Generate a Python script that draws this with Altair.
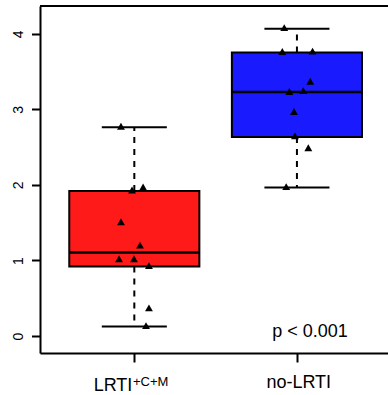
import altair as alt
import pandas as pd

# ---- data ----
positions = [1, 2]
groups = ["LRTI", "no-LRTI"]
box_colors = ["#ff1a1a", "#1a1aff"]
whisker_lo = [0.125, 1.966]
q1 = [0.919, 2.636]
median = [1.105, 3.232]
q3 = [1.92, 3.754]
whisker_hi = [2.764, 4.07]

lrti_values = [2.764, 1.92, 1.96, 1.50, 1.19, 1.01, 1.01, 0.919, 0.36, 0.125]
lrti_jitter = [-0.082, -0.014, 0.054, -0.082, 0.035, -0.094, -0.002, 0.09, 0.09, 0.072]
nolrti_values = [4.07, 3.754, 3.76, 3.36, 3.225, 3.235, 2.96, 2.636, 2.48, 1.966]
nolrti_jitter = [-0.078, -0.09, 0.096, 0.082, -0.047, 0.039, -0.018, -0.012, 0.07, -0.066]

y_ticks = [0, 1, 2, 3, 4]
p_label = "p < 0.001"
p_pos = [2.08, 0.0]
superscript = "+C+M"

# ---- tables ----
box_df = pd.DataFrame({
    "pos": positions, "group": groups, "color": box_colors,
    "lo": whisker_lo, "q1": q1, "med": median, "q3": q3, "hi": whisker_hi,
})
pts_df = pd.DataFrame({
    "pos": [positions[0] + j for j in lrti_jitter] + [positions[1] + j for j in nolrti_jitter],
    "value": lrti_values + nolrti_values,
})
one_row = pd.DataFrame({"k": [0]})

FONT = "Liberation Sans"
X_DOM = [0.42, 2.56]
Y_DOM = [-0.225, 4.37]
xscale = alt.Scale(domain=X_DOM, nice=False, zero=False)
yscale = alt.Scale(domain=Y_DOM, nice=False, zero=False)
xaxis = alt.Axis(values=positions, labels=False, title=None, grid=False,
                 tickSize=9, tickWidth=2, tickColor="black",
                 domainWidth=2, domainColor="black")
yaxis = alt.Axis(values=y_ticks, title=None, grid=False, tickSize=8.5, tickWidth=2,
                 tickColor="black", domainWidth=2, domainColor="black",
                 labelAngle=270, labelAlign="center", labelBaseline="alphabetic",
                 labelPadding=9.5, labelFont=FONT, labelFontSize=14, labelColor="black")

base = alt.Chart(box_df).transform_calculate(
    left="datum.pos - 0.4", right="datum.pos + 0.4",
    capl="datum.pos - 0.2", capr="datum.pos + 0.2",
)

whisk_up = base.mark_rule(color="black", strokeWidth=2, strokeDash=[6, 6]).encode(
    x=alt.X("pos:Q", scale=xscale, axis=xaxis),
    y=alt.Y("q3:Q", scale=yscale, axis=yaxis), y2="hi:Q")
whisk_dn = base.mark_rule(color="black", strokeWidth=2, strokeDash=[6, 6]).encode(
    x=alt.X("pos:Q", scale=xscale, axis=xaxis),
    y=alt.Y("q1:Q", scale=yscale, axis=yaxis), y2="lo:Q")
cap_hi = base.mark_rule(color="black", strokeWidth=2).encode(
    x=alt.X("capl:Q", scale=xscale, axis=xaxis), x2="capr:Q",
    y=alt.Y("hi:Q", scale=yscale, axis=yaxis))
cap_lo = base.mark_rule(color="black", strokeWidth=2).encode(
    x=alt.X("capl:Q", scale=xscale, axis=xaxis), x2="capr:Q",
    y=alt.Y("lo:Q", scale=yscale, axis=yaxis))
box = base.mark_rect(stroke="black", strokeWidth=2).encode(
    x=alt.X("left:Q", scale=xscale, axis=xaxis), x2="right:Q",
    y=alt.Y("q1:Q", scale=yscale, axis=yaxis), y2="q3:Q",
    fill=alt.Fill("color:N", scale=None))
med = base.mark_rule(color="black", strokeWidth=2.5).encode(
    x=alt.X("left:Q", scale=xscale, axis=xaxis), x2="right:Q",
    y=alt.Y("med:Q", scale=yscale, axis=yaxis))

points = alt.Chart(pts_df).mark_point(
    shape="triangle-up", filled=True, size=62, color="black", opacity=1, yOffset=-1
).encode(
    x=alt.X("pos:Q", scale=xscale, axis=xaxis),
    y=alt.Y("value:Q", scale=yscale, axis=yaxis))

top_line = alt.Chart(one_row).mark_rule(color="black", strokeWidth=2).encode(
    x=alt.X(datum=X_DOM[0], scale=xscale, axis=xaxis), x2=alt.datum(X_DOM[1]),
    y=alt.Y(datum=Y_DOM[1], scale=yscale, axis=yaxis))

p_text = alt.Chart(one_row).mark_text(
    text=p_label, font=FONT, fontSize=18, color="black", align="center",
    baseline="alphabetic", dy=1
).encode(
    x=alt.X(datum=p_pos[0], scale=xscale, axis=xaxis),
    y=alt.Y(datum=p_pos[1], scale=yscale, axis=yaxis))

lab1 = alt.Chart(box_df).transform_filter("datum.pos == 1").mark_text(
    font=FONT, fontSize=18, color="black", align="right", baseline="alphabetic", dx=-2
).encode(x=alt.X("pos:Q", scale=xscale, axis=xaxis), y=alt.value(385), text="group:N")
sup1 = alt.Chart(box_df).transform_filter("datum.pos == 1").mark_text(
    text=superscript, font=FONT, fontSize=13, color="black", align="left",
    baseline="alphabetic", dx=-1.3
).encode(x=alt.X("pos:Q", scale=xscale, axis=xaxis), y=alt.value(380.3))
lab2 = alt.Chart(box_df).transform_filter("datum.pos == 2").mark_text(
    font=FONT, fontSize=18, color="black", align="center", baseline="alphabetic", dx=1.8
).encode(x=alt.X("pos:Q", scale=xscale, axis=xaxis), y=alt.value(381.7), text="group:N")

chart = alt.layer(
    whisk_up, whisk_dn, cap_hi, cap_lo, box, med, points, top_line, p_text, lab1, sup1, lab2
).properties(
    width=348, height=347,
    padding={"left": 40, "top": 6, "right": 0, "bottom": 42},
    autosize=alt.AutoSizeParams(type="none"),
).configure_view(stroke=None).configure(background="white")

chart.save("out.html", embed_options={"renderer": "svg", "actions": False})
